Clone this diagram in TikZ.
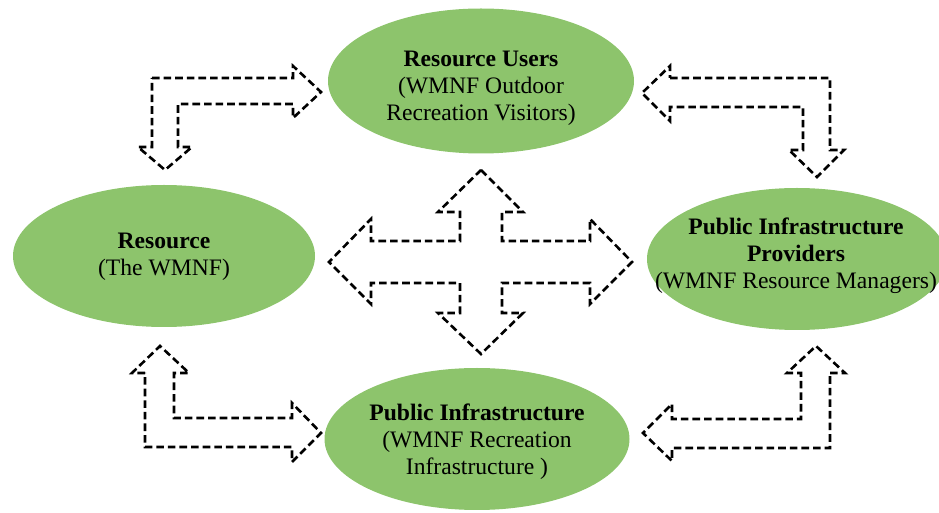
\documentclass[tikz,border=0pt]{standalone}
\usepackage{fontspec}
\setmainfont{Liberation Serif}
\usetikzlibrary{shapes.geometric}
\definecolor{leafgreen}{RGB}{141,196,108}
\tikzset{
  oval/.style={ellipse, fill=leafgreen, inner sep=0pt},
  ovaltext/.style={align=center, inner sep=0pt, font=\fontsize{11.8}{13.5}\selectfont},
  dasharrow/.style={draw=black, line width=1.3pt, dash pattern=on 3.8pt off 2pt,
    line join=miter}
}
\begin{document}
\begin{tikzpicture}[x=0.5pt, y=-0.5pt]
  \useasboundingbox (0,0) rectangle (939,513);

  % Ellissi
  \node[oval, minimum width=153pt, minimum height=72.5pt] (usr) at (481,81) {};
  \node[oval, minimum width=151pt, minimum height=71pt] (res) at (164,256) {};
  \node[oval, minimum width=150pt, minimum height=71pt] (prov) at (797,259) {};
  \node[oval, minimum width=152.5pt, minimum height=71pt] (infra) at (477,439) {};

  % Testi
  \node[ovaltext] (usrlbl) at (481,88)
    {\textbf{Resource Users}\\(WMNF Outdoor\\Recreation Visitors)};
  \node[ovaltext] (reslbl) at (164,257)
    {\textbf{Resource}\\(The WMNF)};
  \node[ovaltext] (provlbl) at (796,256)
    {\textbf{Public Infrastructure}\\\textbf{Providers}\\(WMNF Resource Managers)};
  \node[ovaltext] (infralbl) at (477,442)
    {\textbf{Public Infrastructure}\\(WMNF Recreation\\Infrastructure )};

  % Frecce in alto
  \draw[dasharrow] (152,78) -- (293,78) -- (293,66) -- (321,92) -- (293,118) -- (293,104)
    -- (178,104) -- (178,147) -- (192,147) -- (165,170) -- (138,147) -- (152,147) -- cycle;
  \draw[dasharrow] (670,78) -- (830,78) -- (830,150) -- (844,150) -- (817,177) -- (789,150)
    -- (803,150) -- (803,107) -- (670,107) -- (670,121) -- (642,93) -- (670,66) -- cycle;

  % Frecce in basso
  \draw[dasharrow] (145,373) -- (132,373) -- (160,346) -- (189,373) -- (174,373) -- (174,418)
    -- (292,418) -- (292,403) -- (321,433) -- (292,462) -- (292,447) -- (145,447) -- cycle;
  \draw[dasharrow] (830,373) -- (845,373) -- (816,346) -- (787,373) -- (801,373) -- (801,419)
    -- (672,419) -- (672,404) -- (643,433) -- (672,461) -- (672,448) -- (830,448) -- cycle;

  % Croce centrale
  \draw[dasharrow] (481,170) -- (523,212) -- (502,212) -- (502,241) -- (590,241) -- (590,219)
    -- (632,262) -- (590,304) -- (590,283) -- (502,283) -- (502,313) -- (523,313) -- (481,354)
    -- (438,313) -- (460,313) -- (460,283) -- (371,283) -- (371,304) -- (329,262) -- (371,219)
    -- (371,241) -- (460,241) -- (460,212) -- (438,212) -- cycle;
\end{tikzpicture}
\end{document}
